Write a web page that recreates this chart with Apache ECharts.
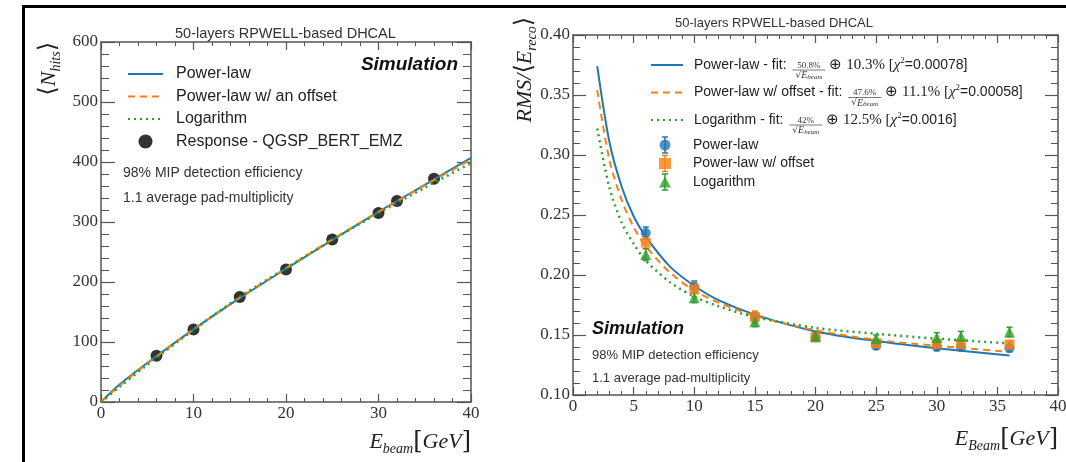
<!DOCTYPE html>
<html>
<head>
<meta charset="utf-8">
<script src="https://cdn.jsdelivr.net/npm/echarts@6/dist/echarts.min.js"></script>
<style>
  body { margin: 0; background: #fff; }
  #wrap { position: relative; width: 1066px; height: 462px; overflow: hidden; }
  #frame { position: absolute; left: 22px; top: 5px; width: 1100px; height: 500px;
    border-top: 3px solid #000; border-left: 3px solid #000; pointer-events: none; }
  #left { position: absolute; left: 0; top: 0; width: 510px; height: 462px; }
  #right { position: absolute; left: 510px; top: 0; width: 556px; height: 462px; }
</style>
</head>
<body>
<div id="wrap">
  <div id="left"></div>
  <div id="right"></div>
  <div id="frame"></div>
</div>
<script>
// ---- left panel: response ----
const hitsEnergy = [6, 10, 15, 20, 25, 30, 32, 36];
const hitsMean = [77, 121, 175, 221, 271, 315, 335, 372];
const hitsFitEnergy = [0, 2, 5, 10, 15, 20, 25, 30, 35, 40];
const hitsPowerFit = [0, 29, 65, 121, 173, 222, 270, 317, 362, 407];
const hitsOffsetFit = [0, 27, 64, 121, 174, 223, 271, 317, 361, 404];
const hitsLogFit = [0, 25, 62, 120, 175, 223, 270, 315, 357, 398];

// ---- right panel: resolution ----
const resEnergy = [6, 10, 15, 20, 25, 30, 32, 36];
const resPower = [0.235, 0.190, 0.165, 0.148, 0.141, 0.140, 0.140, 0.139];
const resOffset = [0.227, 0.188, 0.165, 0.148, 0.143, 0.1425, 0.1425, 0.142];
const resLog = [0.217, 0.181, 0.161, 0.149, 0.147, 0.148, 0.149, 0.1525];
const errPower = [0.005, 0.005, 0.004, 0.003, 0.003, 0.003, 0.003, 0.003];
const errOffset = [0.005, 0.006, 0.005, 0.003, 0.003, 0.003, 0.003, 0.003];
const errLog = [0.005, 0.004, 0.004, 0.003, 0.003, 0.004, 0.004, 0.004];
const resFitEnergy = [2, 3, 4, 5, 6, 8, 10, 12, 15, 20, 25, 30, 36];
const resPowerFit = [0.374, 0.311, 0.274, 0.249, 0.232, 0.207, 0.191, 0.179, 0.167, 0.153, 0.145, 0.139, 0.133];
const resOffsetFit = [0.354, 0.296, 0.263, 0.240, 0.224, 0.202, 0.187, 0.177, 0.166, 0.154, 0.146, 0.141, 0.136];
const resLogFit = [0.322, 0.273, 0.244, 0.226, 0.212, 0.194, 0.182, 0.174, 0.165, 0.156, 0.151, 0.147, 0.143];

const fitNames = ["Power-law - fit:", "Power-law w/ offset - fit:", "Logarithm - fit:"];
const fitStoch = ["50.8%", "47.6%", "42%"];
const fitConst = ["10.3%", "11.1%", "12.5%"];
const fitChi2 = ["0.00078", "0.00058", "0.0016"];
const pointNames = ["Power-law", "Power-law w/ offset", "Logarithm"];

const BLUE = "#1f77b4", ORANGE = "#ff7f0e", GREEN = "#2ca02c";
const SANS = "Liberation Sans";
const SERIF = "Liberation Serif";
const AXIS = "#555";

function pairs(xs, ys) {
  return xs.map((x, i) => [x, ys[i]]);
}

// value axis drawn as one side of the ROOT-style frame
function frameAxis(o) {
  return {
    type: "value",
    min: o.min, max: o.max, interval: o.interval,
    position: o.position,
    axisLine: { show: true, onZero: false, lineStyle: { color: AXIS, width: 1.5 } },
    axisTick: { show: true, inside: true, length: o.major, lineStyle: { color: AXIS, width: 1.2 } },
    minorTick: { show: true, splitNumber: 5, length: o.minor, lineStyle: { color: AXIS, width: 1 } },
    splitLine: { show: false },
    axisLabel: {
      show: !!o.labels, margin: 3, color: "#333",
      fontFamily: SERIF, fontSize: 17,
      formatter: o.fmt,
    },
    name: o.name, nameLocation: "end", nameGap: o.nameGap || 0,
    nameMoveOverlap: false,
    nameRotate: o.nameRotate, nameTextStyle: o.nameStyle,
  };
}

const nameRich = {
  e: { fontFamily: SERIF, fontStyle: "italic", fontSize: 22, color: "#222", lineHeight: 28 },
  s: { fontFamily: SERIF, fontStyle: "italic", fontSize: 14, color: "#222", verticalAlign: "bottom", lineHeight: 28 },
  b: { fontFamily: "DejaVu Serif", fontSize: 24, color: "#222", lineHeight: 28 },
};

// fit lines have no symbol: keep the legend icon to the bare line
const noSymbol = { opacity: 0 };

// ---------- left chart ----------
const leftChart = echarts.init(document.getElementById("left"));
leftChart.setOption({
  animation: false,
  title: {
    text: "50-layers RPWELL-based DHCAL", left: 170, top: 21,
    textStyle: { fontFamily: SANS, fontSize: 14.5, fontWeight: "normal", color: "#333" },
  },
  grid: { left: 101, right: 39, top: 42, bottom: 60, outerBoundsMode: "none" },
  xAxis: [
    frameAxis({ min: 0, max: 40, interval: 10, position: "bottom", major: 8, minor: 4, labels: true,
      name: "{e|E}{s|beam}{b|[}{e|GeV}{b|]}",
      nameStyle: { align: "right", verticalAlign: "top", padding: [26, 0, 0, 0], rich: nameRich } }),
    frameAxis({ min: 0, max: 40, interval: 10, position: "top", major: 8, minor: 4 }),
  ],
  yAxis: [
    frameAxis({ min: 0, max: 600, interval: 100, position: "left", major: 14, minor: 8, labels: true,
      name: "{b|⟨}{e|N}{s|hits}{b|⟩}", nameRotate: 90,
      nameStyle: { align: "right", verticalAlign: "bottom", padding: [0, 0, 38, 0], rich: nameRich } }),
    frameAxis({ min: 0, max: 600, interval: 100, position: "right", major: 14, minor: 8 }),
  ],
  legend: {
    orient: "vertical", left: 127, top: 65, padding: 0, itemWidth: 35, itemHeight: 14, itemGap: 4.5,
    data: [
      { name: "Power-law", itemStyle: noSymbol },
      { name: "Power-law w/ an offset", itemStyle: noSymbol },
      { name: "Logarithm", itemStyle: noSymbol },
      "Response - QGSP_BERT_EMZ",
    ],
    formatter: (name) => "{g|}" + name,
    textStyle: { fontFamily: SANS, fontSize: 16, lineHeight: 18, color: "#222", rich: { g: { width: 8 } } },
  },
  graphic: [
    { type: "text", x: 458, y: 65, style: { text: "Simulation", font: 'italic bold 19px "Liberation Sans"', align: "right", verticalAlign: "middle", fill: "#111" } },
    { type: "text", x: 123, y: 173, style: { text: "98% MIP detection efficiency", font: '14px "Liberation Sans"', verticalAlign: "middle", fill: "#333" } },
    { type: "text", x: 123, y: 198, style: { text: "1.1 average pad-multiplicity", font: '14px "Liberation Sans"', verticalAlign: "middle", fill: "#333" } },
  ],
  series: [
    { name: "Response - QGSP_BERT_EMZ", type: "scatter", z: 1, symbolSize: 12,
      itemStyle: { color: "#000" }, data: pairs(hitsEnergy, hitsMean) },
    { name: "Power-law", type: "line", z: 2, symbol: "none", smooth: 0.3,
      lineStyle: { color: BLUE, width: 2 }, itemStyle: { color: BLUE }, data: pairs(hitsFitEnergy, hitsPowerFit) },
    { name: "Power-law w/ an offset", type: "line", z: 3, symbol: "none", smooth: 0.3,
      lineStyle: { color: ORANGE, width: 2, type: [7, 5] }, itemStyle: { color: ORANGE }, data: pairs(hitsFitEnergy, hitsOffsetFit) },
    { name: "Logarithm", type: "line", z: 4, symbol: "none", smooth: 0.3,
      lineStyle: { color: GREEN, width: 2.5, type: [2, 4] }, itemStyle: { color: GREEN }, data: pairs(hitsFitEnergy, hitsLogFit) },
  ],
});

// ---------- right chart ----------
const ctx = document.createElement("canvas").getContext("2d");
function textWidth(s, font) {
  ctx.font = font;
  return ctx.measureText(s).width;
}

const legendLeft = 140, lineIcon = 32, rowStep = 27.5, firstRow = 65;
const markerLeft = 149, markerRows = [145, 163.5, 182];
const fracWidth = 37;
const tails = fitNames.map((n, i) =>
  "{o|⊕ " + fitConst[i] + " [}{x|χ}{p|2}{s|=" + fitChi2[i] + "]}");

function errorBars(values, errs, color) {
  return {
    type: "custom", z: 5, silent: true,
    data: resEnergy.map((e, i) => [e, values[i] - errs[i], values[i] + errs[i]]),
    renderItem: (params, api) => {
      const top = api.coord([api.value(0), api.value(2)]);
      const bot = api.coord([api.value(0), api.value(1)]);
      const st = { stroke: color, lineWidth: 1.5 };
      return {
        type: "group",
        children: [
          { type: "line", shape: { x1: top[0], y1: top[1], x2: bot[0], y2: bot[1] }, style: st },
          { type: "line", shape: { x1: top[0] - 3, y1: top[1], x2: top[0] + 3, y2: top[1] }, style: st },
          { type: "line", shape: { x1: bot[0] - 3, y1: bot[1], x2: bot[0] + 3, y2: bot[1] }, style: st },
        ],
      };
    },
  };
}

// stacked fraction  stoch / sqrt(E_beam)  after each fit legend entry
const extras = [];
fitNames.forEach((n, i) => {
  const fx = legendLeft + lineIcon + 5 + 6 + textWidth(n + " ", '14px "Liberation Sans"') + 1;
  const cy = firstRow + rowStep * i;
  extras.push(
    { type: "text", x: fx + fracWidth / 2, y: cy + 0.5, style: { text: fitStoch[i], font: '9px "Liberation Serif"', align: "center", verticalAlign: "middle", fill: "#333" } },
    { type: "line", shape: { x1: fx + 2, y1: cy + 5, x2: fx + fracWidth - 2, y2: cy + 5 }, style: { stroke: "#555", lineWidth: 0.8 } },
    { type: "text", x: fx + fracWidth / 2, y: cy + 10.5, style: {
        text: "{r|√}{e|E}{s|beam}", align: "center", verticalAlign: "middle",
        rich: {
          r: { fontFamily: "DejaVu Serif", fontSize: 9, fill: "#333" },
          e: { fontFamily: SERIF, fontStyle: "italic", fontSize: 10, fill: "#333" },
          s: { fontFamily: SERIF, fontStyle: "italic", fontSize: 7, fill: "#333", verticalAlign: "bottom" },
        } } }
  );
});
// error bars on the marker legend icons
[BLUE, ORANGE, GREEN].forEach((c, i) => {
  const cx = markerLeft + 6, cy = markerRows[i];
  const st = { stroke: c, lineWidth: 1.5 };
  extras.push(
    { type: "line", shape: { x1: cx, y1: cy - 8, x2: cx, y2: cy + 8 }, style: st },
    { type: "line", shape: { x1: cx - 3, y1: cy - 8, x2: cx + 3, y2: cy - 8 }, style: st },
    { type: "line", shape: { x1: cx - 3, y1: cy + 8, x2: cx + 3, y2: cy + 8 }, style: st }
  );
});

const rightChart = echarts.init(document.getElementById("right"));
rightChart.setOption({
  animation: false,
  title: {
    text: "50-layers RPWELL-based DHCAL", left: 160, top: 12,
    textStyle: { fontFamily: SANS, fontSize: 13, fontWeight: "normal", color: "#333" },
  },
  grid: { left: 63, right: 8, top: 35, bottom: 67, outerBoundsMode: "none" },
  xAxis: [
    frameAxis({ min: 0, max: 40, interval: 5, position: "bottom", major: 8, minor: 4, labels: true,
      name: "{e|E}{s|Beam}{b|[}{e|GeV}{b|]}",
      nameStyle: { align: "right", verticalAlign: "top", padding: [30, 0, 0, 0], rich: nameRich } }),
    frameAxis({ min: 0, max: 40, interval: 5, position: "top", major: 8, minor: 4 }),
  ],
  yAxis: [
    frameAxis({ min: 0.10, max: 0.40, interval: 0.05, position: "left", major: 13, minor: 7, labels: true,
      fmt: (v) => v.toFixed(2),
      name: "{e|RMS}{e|/}{b|⟨}{e|E}{s|reco}{b|⟩}", nameRotate: 90, nameGap: 18,
      nameStyle: { align: "right", verticalAlign: "bottom", padding: [0, 0, 34, 0], rich: nameRich } }),
    frameAxis({ min: 0.10, max: 0.40, interval: 0.05, position: "right", major: 13, minor: 7 }),
  ],
  legend: [
    {
      orient: "vertical", left: legendLeft, top: firstRow - 9, padding: 0, itemWidth: lineIcon, itemHeight: 14,
      itemGap: rowStep - 18,
      data: fitNames.map((n) => ({ name: n, itemStyle: noSymbol })),
      formatter: (name) => "{g|}" + name + " {f|}" + tails[fitNames.indexOf(name)],
      textStyle: {
        fontFamily: SANS, fontSize: 14, lineHeight: 18, color: "#222",
        rich: {
          g: { width: 6 }, f: { width: fracWidth + 2 },
          o: { fontFamily: SERIF, fontSize: 15, color: "#222", lineHeight: 18 },
          x: { fontFamily: SERIF, fontStyle: "italic", fontSize: 15, color: "#222", lineHeight: 18 },
          p: { fontFamily: SERIF, fontSize: 9, color: "#222", verticalAlign: "top", lineHeight: 18 },
          s: { fontFamily: SANS, fontSize: 14, color: "#222", lineHeight: 18 },
        },
      },
    },
    {
      orient: "vertical", left: markerLeft, top: markerRows[0] - 8, padding: 0, itemWidth: 12, itemHeight: 11,
      itemGap: 2.5,
      data: pointNames,
      formatter: (name) => "{g|}" + name,
      textStyle: { fontFamily: SANS, fontSize: 14, lineHeight: 16, color: "#222", rich: { g: { width: 17 } } },
    },
  ],
  graphic: extras.concat([
    { type: "text", x: 82, y: 329, style: { text: "Simulation", font: 'italic bold 18px "Liberation Sans"', verticalAlign: "middle", fill: "#111" } },
    { type: "text", x: 82, y: 355, style: { text: "98% MIP detection efficiency", font: '13px "Liberation Sans"', verticalAlign: "middle", fill: "#333" } },
    { type: "text", x: 82, y: 378, style: { text: "1.1 average pad-multiplicity", font: '13px "Liberation Sans"', verticalAlign: "middle", fill: "#333" } },
  ]),
  series: [
    { name: fitNames[0], type: "line", z: 2, symbol: "none", smooth: 0.3,
      lineStyle: { color: BLUE, width: 2 }, itemStyle: { color: BLUE }, data: pairs(resFitEnergy, resPowerFit) },
    { name: fitNames[1], type: "line", z: 3, symbol: "none", smooth: 0.3,
      lineStyle: { color: ORANGE, width: 2, type: [7, 5] }, itemStyle: { color: ORANGE }, data: pairs(resFitEnergy, resOffsetFit) },
    { name: fitNames[2], type: "line", z: 4, symbol: "none", smooth: 0.3,
      lineStyle: { color: GREEN, width: 2.5, type: [2, 4] }, itemStyle: { color: GREEN }, data: pairs(resFitEnergy, resLogFit) },
    errorBars(resPower, errPower, BLUE),
    errorBars(resOffset, errOffset, ORANGE),
    errorBars(resLog, errLog, GREEN),
    { name: pointNames[0], type: "scatter", z: 6, symbol: "circle", symbolSize: 10,
      itemStyle: { color: BLUE }, data: pairs(resEnergy, resPower) },
    { name: pointNames[1], type: "scatter", z: 7, symbol: "rect", symbolSize: 10,
      itemStyle: { color: ORANGE }, data: pairs(resEnergy, resOffset) },
    { name: pointNames[2], type: "scatter", z: 8, symbol: "triangle", symbolSize: 11,
      itemStyle: { color: GREEN }, data: pairs(resEnergy, resLog) },
  ],
});
</script>
</body>
</html>
